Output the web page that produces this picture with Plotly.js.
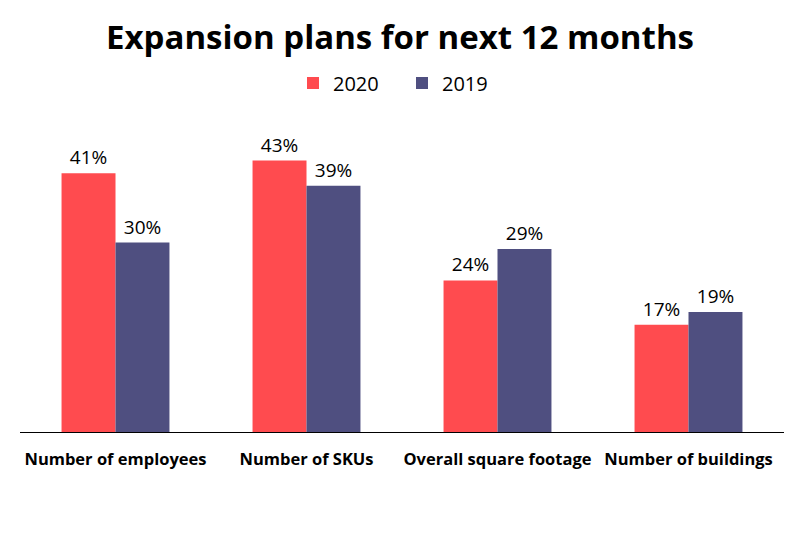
<!DOCTYPE html>
<html>
<head>
<meta charset="utf-8">
<script src="https://cdn.plot.ly/plotly-3.0.1.min.js"></script>
<style>
  html, body { margin: 0; padding: 0; background: #fff; }
  #chart { width: 800px; height: 534px; }
</style>
</head>
<body>
<div id="chart"></div>
<script>
var categories = ['Number of employees', 'Number of SKUs', 'Overall square footage', 'Number of buildings'];
var values2020 = [41, 43, 24, 17];
var values2019 = [30, 39, 29, 19];

var labelFont = { family: 'Open Sans, sans-serif', size: 19, color: '#000' };

var data = [
  {
    name: '2020',
    x: categories,
    y: values2020,
    type: 'bar',
    marker: { color: '#ff4b4f' },
    text: values2020.map(v => v + '%'),
    textposition: 'outside',
    textfont: labelFont,
    cliponaxis: false,
    hoverinfo: 'none'
  },
  {
    name: '2019',
    x: categories,
    y: values2019,
    type: 'bar',
    marker: { color: '#4f4f80' },
    text: values2019.map(v => v + '%'),
    textposition: 'outside',
    textfont: labelFont,
    cliponaxis: false,
    hoverinfo: 'none'
  }
];

var layout = {
  width: 800,
  height: 534,
  margin: { l: 20, r: 16, t: 110, b: 102 },
  paper_bgcolor: '#fff',
  plot_bgcolor: '#fff',
  title: {
    text: '<b>Expansion plans for next 12 months</b>',
    font: { family: 'Open Sans, sans-serif', size: 33, color: '#000' },
    x: 0.5,
    xanchor: 'center',
    y: 0.93,
    yanchor: 'middle'
  },
  barmode: 'group',
  bargap: 0.435,
  bargroupgap: 0,
  showlegend: true,
  legend: {
    orientation: 'h',
    x: 0.5,
    xanchor: 'center',
    y: 1.084,
    yanchor: 'middle',
    font: { family: 'Open Sans, sans-serif', size: 20, color: '#000' },
    itemwidth: 30,
    entrywidth: 64,
    traceorder: 'normal'
  },
  xaxis: {
    showline: true,
    linecolor: '#000',
    linewidth: 1,
    ticks: '',
    ticklabelstandoff: 12,
    tickfont: { family: 'Open Sans, sans-serif', size: 16.5, color: '#000', weight: 'bold' },
    fixedrange: true
  },
  yaxis: {
    range: [0, 51],
    visible: false,
    showgrid: false,
    zeroline: false,
    fixedrange: true
  }
};

Plotly.newPlot('chart', data, layout, { displayModeBar: false, staticPlot: true });
</script>
</body>
</html>
